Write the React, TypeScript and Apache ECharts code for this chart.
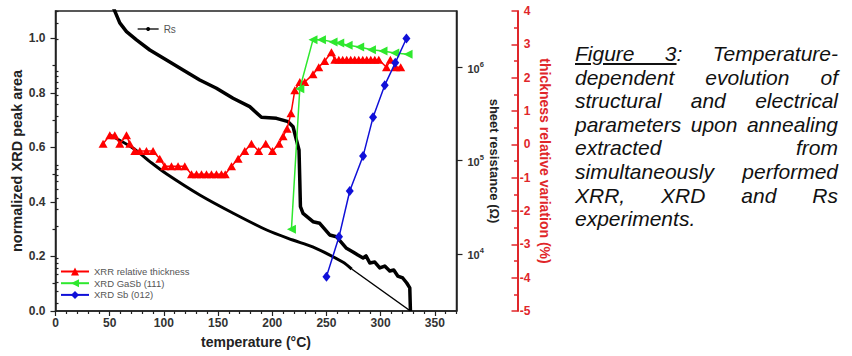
import React, { useEffect, useRef } from 'react';
import * as echarts from 'echarts';

const FONT = '"Liberation Sans", Arial, Helvetica, sans-serif';
const AXIS_RED = '#e0262a';
const DATA_RED = '#ff0000';
const DATA_GREEN = '#2ee82e';
const DATA_BLUE = '#1010d8';

// ---- tick labels ----
const xTickValues = [0, 50, 100, 150, 200, 250, 300, 350];
const leftTickValues = [0, 0.2, 0.4, 0.6, 0.8, 1.0];
const redTickValues = [-5, -4, -3, -2, -1, 0, 1, 2, 3, 4];
const rsDecadeExponents = [4, 5, 6]; // 10^4, 10^5, 10^6 Ω

// ---- Rs (sheet resistance), log10(Ω) vs temperature (°C) ----
const rsHeatT = [53, 59.3, 65.5, 74.7, 87.0, 102.4, 117.7, 133.1, 148.5, 163.8, 179.2, 190.0, 203.9, 214.6, 219.2, 222.3, 224.7, 225.4, 226.0, 228.4, 237.6, 243.8, 253.0, 259.2, 268.5, 274.5, 279.0, 283.8, 286.5, 290.0, 294.6, 299.2, 303.8, 308.4, 312.1, 315.8, 320.4, 324.1, 326.9, 327.5];
const rsHeatLog = [6.65, 6.476, 6.383, 6.294, 6.186, 6.079, 5.972, 5.865, 5.776, 5.669, 5.579, 5.465, 5.454, 5.418, 5.364, 5.222, 5.115, 4.793, 4.507, 4.436, 4.346, 4.329, 4.204, 4.185, 4.061, 4.022, 3.989, 3.957, 3.979, 3.904, 3.914, 3.850, 3.871, 3.818, 3.829, 3.764, 3.743, 3.689, 3.636, 3.389];
const rsCoolT = [273.3, 265.0, 237.3, 218.9, 194.9, 163.6, 133.1, 102.6, 88.8, 71.3, 50.1];
const rsCoolLog = [3.839, 3.914, 4.075, 4.150, 4.257, 4.439, 4.632, 4.857, 4.975, 5.136, 5.275];
const rsTailT = [327.5, 273.3];
const rsTailLog = [3.389, 3.839];

// ---- XRR relative thickness (%) ----
const xrrT = [43.9, 50.1, 54.7, 59.3, 65.5, 68.5, 73.2, 77.8, 83.9, 90.0, 96.2, 100.8, 107.0, 113.1, 119.3, 125.5, 130.1, 134.7, 139.3, 143.9, 148.5, 153.1, 156.6, 162.4, 168.5, 174.6, 180.8, 187.5, 194.0, 200.2, 206.3, 210.0, 213.7, 217.3, 220.8, 225.4, 230.0, 237.6, 242.9, 248.4, 254.6, 257.7, 261.4, 265.0, 268.7, 272.4, 276.1, 279.8, 283.5, 287.2, 290.9, 294.6, 298.3, 305.4, 309.0, 313.9, 318.5];
const xrrThickness = [0.02, 0.27, 0.27, 0.02, 0.27, 0.02, -0.2, -0.2, -0.2, -0.2, -0.43, -0.66, -0.66, -0.66, -0.66, -0.9, -0.9, -0.9, -0.9, -0.9, -0.9, -0.9, -0.9, -0.66, -0.43, -0.2, 0.02, -0.2, 0.02, -0.2, 0.02, 0.24, 0.47, 0.93, 1.62, 1.87, 1.87, 2.1, 2.31, 2.5, 2.76, 2.54, 2.54, 2.54, 2.54, 2.54, 2.54, 2.54, 2.54, 2.54, 2.54, 2.54, 2.54, 2.31, 2.54, 2.31, 2.31];

// ---- XRD GaSb (111) normalized peak area ----
const gasbT = [217.7, 225.4, 237.6, 245.4, 256.1, 262.3, 270.0, 280.7, 291.5, 302.2, 313.0, 325.3];
const gasbArea = [0.30, 0.815, 0.995, 0.995, 0.986, 0.983, 0.974, 0.968, 0.958, 0.953, 0.946, 0.941];

// ---- XRD Sb (012) normalized peak area ----
const sbT = [250.0, 261.6, 271.5, 283.8, 293.0, 303.8, 313.5, 323.8];
const sbArea = [0.126, 0.272, 0.44, 0.568, 0.71, 0.828, 0.91, 0.999];

// ---- caption ----
const captionLines = [
  'Figure 3: Temperature-',
  'dependent evolution of',
  'structural and electrical',
  'parameters upon annealing',
  'extracted from',
  'simultaneously performed',
  'XRR, XRD and Rs',
  'experiments.',
];

const zip = (xs: number[], ys: number[]) => xs.map((x, i) => [x, ys[i]]);

const range = (a: number, b: number, step: number) => {
  const out: number[] = [];
  for (let v = a; v <= b + 1e-9; v += step) out.push(Math.round(v * 1000) / 1000);
  return out;
};

const xMinor = range(0, 370, 10).filter((v) => v % 50 !== 0);
const leftMinor = [0.1, 0.3, 0.5, 0.7, 0.9];
const redMinor = range(-4.5, 3.5, 1);
const logMinor: number[] = [];
for (let n = 3; n <= 6; n++) {
  for (let k = 2; k <= 9; k++) {
    const v = Math.log10(k * Math.pow(10, n));
    if (v > 3.389 && v < 6.604) logMinor.push(v);
  }
}

const DARK = '#222';
const LABEL = '#333';

function buildOption(): any {
  const axisLine = { show: true, onZero: false, lineStyle: { color: DARK, width: 1.5 } };
  const tickStyle = { color: DARK, width: 1.2 };
  const labelStyle = { fontFamily: FONT, fontSize: 12, fontWeight: 'bold', color: LABEL };
  return {
    animation: false,
    textStyle: { fontFamily: FONT },
    grid: { left: 55.5, top: 11, width: 401, height: 300, show: true, borderColor: DARK, borderWidth: 1.5 },
    legend: [
      {
        data: ['Rs'], left: 137, top: 24, padding: 0, itemWidth: 21, itemHeight: 5,
        textStyle: { fontFamily: FONT, fontSize: 10, color: '#555' },
        lineStyle: { width: 1.3 }, selectedMode: false,
      },
      {
        data: ['XRR relative thickness', 'XRD GaSb (111)', 'XRD Sb (012)'],
        orient: 'vertical', left: 60, top: 266.5, padding: 0, itemWidth: 28, itemHeight: 10, itemGap: 1.7,
        textStyle: { fontFamily: FONT, fontSize: 9.5, color: '#555', lineHeight: 10 },
        selectedMode: false,
      },
    ],
    xAxis: [
      {
        type: 'value', min: 0, max: 370, position: 'bottom',
        axisLine,
        axisTick: { show: true, customValues: xTickValues, length: 5, lineStyle: tickStyle },
        axisLabel: { ...labelStyle, customValues: xTickValues, margin: 6 },
        splitLine: { show: false },
        name: 'temperature (°C)', nameLocation: 'middle', nameGap: 24,
        nameTextStyle: { fontFamily: FONT, fontSize: 14, fontWeight: 'bold', color: DARK },
      },
      {
        type: 'value', min: 0, max: 370, position: 'bottom',
        axisLine: { show: false },
        axisTick: { show: true, customValues: xMinor, length: 3, lineStyle: tickStyle },
        axisLabel: { show: false },
        splitLine: { show: false },
      },
    ],
    yAxis: [
      {
        type: 'value', min: 0, max: 1.1, position: 'left',
        axisLine,
        axisTick: { show: true, customValues: leftTickValues, length: 5, lineStyle: tickStyle },
        axisLabel: { ...labelStyle, customValues: leftTickValues, margin: 10, formatter: (v: number) => v.toFixed(1) },
        splitLine: { show: false },
        name: 'normalized XRD peak area', nameLocation: 'middle', nameGap: 30,
        nameTextStyle: { fontFamily: FONT, fontSize: 14.5, fontWeight: 'bold', color: DARK },
      },
      {
        type: 'value', min: 0, max: 1.1, position: 'left',
        axisLine: { show: false },
        axisTick: { show: true, customValues: leftMinor, length: 3, lineStyle: tickStyle },
        axisLabel: { show: false },
        splitLine: { show: false },
      },
      {
        type: 'value', min: 3.389, max: 6.604, position: 'right',
        axisLine,
        axisTick: { show: true, customValues: rsDecadeExponents, length: 6, lineStyle: tickStyle },
        axisLabel: {
          customValues: rsDecadeExponents, margin: 11,
          formatter: (v: number) => `{b|10}{s|${Math.round(v)}}`,
          rich: {
            b: { fontFamily: FONT, fontSize: 11, fontWeight: 'bold', color: LABEL, lineHeight: 14, verticalAlign: 'bottom' },
            s: { fontFamily: FONT, fontSize: 7.5, fontWeight: 'bold', color: LABEL, lineHeight: 14, verticalAlign: 'top' },
          },
        },
        splitLine: { show: false },
        name: 'sheet resistance (Ω)', nameLocation: 'middle', nameGap: 31, nameRotate: -90,
        nameTextStyle: { fontFamily: FONT, fontSize: 13, fontWeight: 'bold', color: DARK },
      },
      {
        type: 'value', min: 3.389, max: 6.604, position: 'right',
        axisLine: { show: false },
        axisTick: { show: true, customValues: logMinor, length: 3, lineStyle: tickStyle },
        axisLabel: { show: false },
        splitLine: { show: false },
      },
      {
        type: 'value', min: -5, max: 4, interval: 1, position: 'right', offset: 61,
        axisLine: { show: true, onZero: false, lineStyle: { color: AXIS_RED, width: 2 } },
        axisTick: { show: true, inside: true, customValues: redTickValues, length: 6, lineStyle: { color: AXIS_RED, width: 1.5 } },
        axisLabel: { customValues: redTickValues, align: 'right', margin: 13, fontFamily: FONT, fontSize: 12, fontWeight: 'bold', color: AXIS_RED },
        splitLine: { show: false },
        name: 'thickness relative variation (%)', nameLocation: 'middle', nameGap: 20, nameRotate: -90,
        nameTextStyle: { fontFamily: FONT, fontSize: 14, fontWeight: 'bold', color: AXIS_RED },
      },
      {
        type: 'value', min: -5, max: 4, position: 'right', offset: 61,
        axisLine: { show: false },
        axisTick: { show: true, inside: true, customValues: redMinor, length: 3.5, lineStyle: { color: AXIS_RED, width: 1.5 } },
        axisLabel: { show: false },
        splitLine: { show: false },
      },
    ],
    series: [
      {
        name: 'Rs', type: 'line', xAxisIndex: 0, yAxisIndex: 2, data: zip(rsHeatT, rsHeatLog),
        symbol: 'circle', symbolSize: 3, showSymbol: false, silent: true,
        lineStyle: { color: '#000', width: 3.5, join: 'round' }, itemStyle: { color: '#000' }, z: 2,
      },
      {
        name: 'Rs', type: 'line', xAxisIndex: 0, yAxisIndex: 2, data: zip(rsCoolT, rsCoolLog),
        symbol: 'circle', symbolSize: 3, showSymbol: false, silent: true, smooth: 0.3,
        lineStyle: { color: '#000', width: 3, join: 'round' }, itemStyle: { color: '#000' }, z: 2,
      },
      {
        name: 'Rs', type: 'line', xAxisIndex: 0, yAxisIndex: 2, data: zip(rsTailT, rsTailLog),
        symbol: 'circle', symbolSize: 3, showSymbol: false, silent: true,
        lineStyle: { color: '#000', width: 1.5 }, itemStyle: { color: '#000' }, z: 2,
      },
      {
        name: 'XRR relative thickness', type: 'line', xAxisIndex: 0, yAxisIndex: 4, data: zip(xrrT, xrrThickness),
        symbol: 'triangle', symbolSize: [9, 8], showSymbol: true, silent: true,
        lineStyle: { color: DATA_RED, width: 1.5 }, itemStyle: { color: DATA_RED }, z: 3,
      },
      {
        name: 'XRD GaSb (111)', type: 'line', xAxisIndex: 0, yAxisIndex: 0, data: zip(gasbT, gasbArea),
        symbol: 'triangle', symbolRotate: 90, symbolSize: [9, 9], showSymbol: true, silent: true,
        lineStyle: { color: DATA_GREEN, width: 1.5 }, itemStyle: { color: DATA_GREEN }, z: 4,
      },
      {
        name: 'XRD Sb (012)', type: 'line', xAxisIndex: 0, yAxisIndex: 0, data: zip(sbT, sbArea),
        symbol: 'diamond', symbolSize: [8, 10], showSymbol: true, silent: true,
        lineStyle: { color: DATA_BLUE, width: 1.5 }, itemStyle: { color: DATA_BLUE }, z: 5,
      },
    ],
  };
}

function Caption() {
  const base: React.CSSProperties = {
    fontFamily: FONT,
    fontStyle: 'italic',
    fontSize: 21,
    lineHeight: '23.6px',
    height: 23.6,
    color: '#111',
    whiteSpace: 'nowrap',
  };
  return (
    <div style={{ position: 'absolute', left: 575, top: 42, width: 263 }}>
      {captionLines.map((line, i) => {
        const last = i === captionLines.length - 1;
        const style: React.CSSProperties = {
          ...base,
          whiteSpace: 'normal',
          textAlign: last ? 'left' : 'justify',
          textAlignLast: last ? 'left' : 'justify',
        } as React.CSSProperties;
        if (i === 0) {
          const rest = line.replace('Figure 3', '');
          return (
            <div key={i} style={style}>
              <u>Figure 3</u>{rest}
            </div>
          );
        }
        return (
          <div key={i} style={style}>
            {line}
          </div>
        );
      })}
    </div>
  );
}

export default function App() {
  const ref = useRef<HTMLDivElement>(null);
  useEffect(() => {
    if (!ref.current) return;
    const chart = echarts.init(ref.current, undefined, { renderer: 'svg' });
    chart.setOption(buildOption());
    return () => chart.dispose();
  }, []);
  return (
    <div style={{ position: 'absolute', left: 0, top: 0, width: 852, height: 356, background: '#fff', overflow: 'hidden' }}>
      <div ref={ref} style={{ position: 'absolute', left: 0, top: 0, width: 852, height: 356 }} />
      <Caption />
    </div>
  );
}
